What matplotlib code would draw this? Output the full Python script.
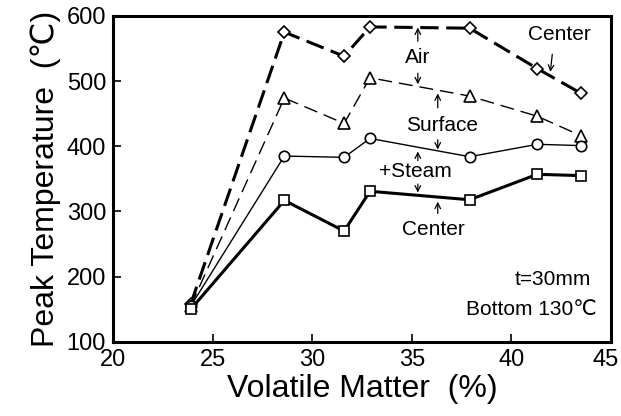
import matplotlib
matplotlib.use("Agg")
import matplotlib.pyplot as plt
import matplotlib.transforms as mtrans

plt.rcParams['font.family'] = ['Liberation Sans', 'DejaVu Sans']

# volatile matter (%) of the coals
vm = [23.9, 28.6, 31.6, 32.9, 37.9, 41.3, 43.5]

# peak temperatures (C)
air_center = [158, 575, 538, 583, 581, 519, 481]
air_surface = [155, 474, 435, 505, 477, 446, 416]
steam_surface = [155, 385, 383, 412, 384, 403, 401]
steam_center = [150, 317, 270, 331, 318, 357, 355]

fig = plt.figure(figsize=(6.21, 4.16), dpi=100)
ax = fig.add_axes([0.182, 0.178, 0.802, 0.784])

ax.plot(vm, air_center, color='k', lw=2.2, ls=(0, (6, 2.5)),
        marker='D', ms=6, mfc='white', mec='k', mew=1.2)
ax.plot(vm, air_surface, color='k', lw=1.0, ls=(0, (10, 5)),
        marker='^', ms=9, mfc='white', mec='k', mew=1.2)
ax.plot(vm, steam_surface, color='k', lw=1.0,
        marker='o', ms=7.5, mfc='white', mec='k', mew=1.2)
ax.plot(vm, steam_center, color='k', lw=2.2,
        marker='s', ms=7, mfc='white', mec='k', mew=1.2)

ax.set_xlim(20, 45)
ax.set_ylim(100, 600)
ax.set_xticks([20, 25, 30, 35, 40, 45])
ax.set_yticks([100, 200, 300, 400, 500, 600])
ax.tick_params(direction='in', length=6, width=1.2, labelsize=17, pad=5)
for s in ax.spines.values():
    s.set_linewidth(2.2)

# last x tick label sits on the figure edge, nudge it in a bit
lab = ax.get_xticklabels()[-1]
lab.set_transform(lab.get_transform() +
                  mtrans.ScaledTranslation(-5 / 100, 0, fig.dpi_scale_trans))

ax.set_xlabel('Volatile Matter  (%)', fontsize=23, labelpad=2)
ax.set_ylabel('Peak Temperature  (\u2103)', fontsize=23, labelpad=4)

# labels with small arrows
arr = dict(arrowstyle='->', lw=0.9, color='k', shrinkA=0, shrinkB=0)
ax.text(35.3, 536, 'Air', fontsize=15, ha='center', va='center')
ax.annotate('', xy=(35.3, 582), xytext=(35.3, 561), arrowprops=arr)
ax.annotate('', xy=(35.3, 495), xytext=(35.3, 512), arrowprops=arr)

ax.text(36.5, 432, 'Surface', fontsize=15, ha='center', va='center')
ax.annotate('', xy=(36.3, 481), xytext=(36.3, 459), arrowprops=arr)
ax.annotate('', xy=(36.3, 395), xytext=(36.3, 410), arrowprops=arr)

ax.text(35.2, 361, '+Steam', fontsize=15, ha='center', va='center')
ax.annotate('', xy=(35.3, 392), xytext=(35.3, 378), arrowprops=arr)
ax.annotate('', xy=(35.3, 329), xytext=(35.3, 342), arrowprops=arr)

ax.text(36.1, 273, 'Center', fontsize=15, ha='center', va='center')
ax.annotate('', xy=(36.3, 315), xytext=(36.3, 297), arrowprops=arr)

ax.text(42.4, 571, 'Center', fontsize=15, ha='center', va='center')
ax.annotate('', xy=(41.95, 514), xytext=(42.05, 541), arrowprops=arr)

ax.text(44.0, 195, 't=30mm', fontsize=15, ha='right', va='center')
ax.text(44.3, 149, 'Bottom 130\u2103', fontsize=15, ha='right', va='center')

fig.savefig('out.png', dpi=100)
